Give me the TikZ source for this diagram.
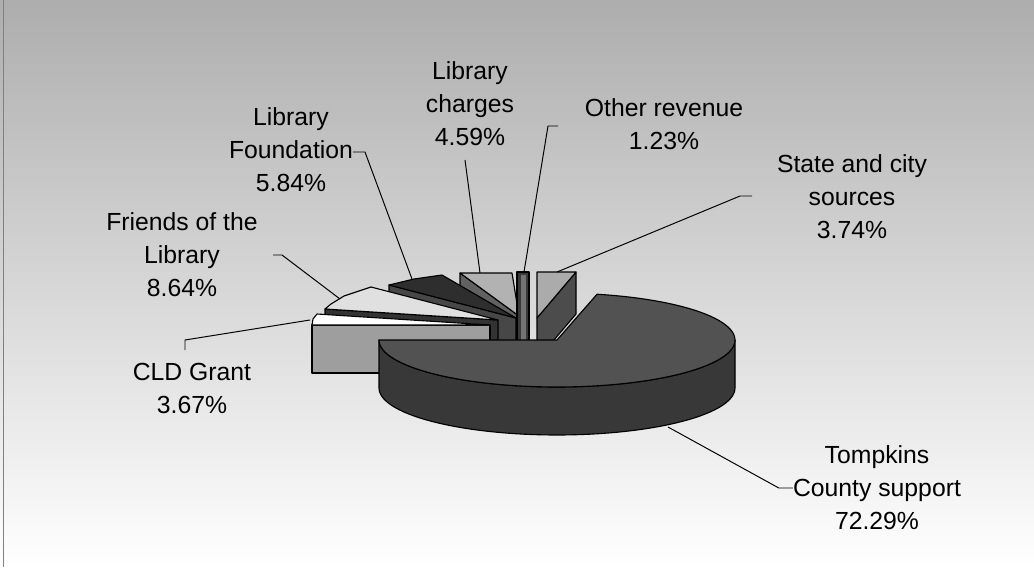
\documentclass[tikz,border=0pt]{standalone}
\usepackage{fontspec}
\setmainfont{Liberation Sans}
\usepackage{tikz}
\usetikzlibrary{calc,positioning}

\begin{document}
\begin{tikzpicture}[
    x = 0.025cm,
    y = -0.025cm,
    line join = round,
    face/.style = {
      draw = black,
      line width = 0.8pt},
    leader/.style = {
      draw = black,
      line width = 0.7pt},
    lbl/.style = {
      align = center,
      inner sep = 0pt,
      font = \fontsize{17.6}{23.5}\selectfont}
      ]
  % Tompkins County slice: apex, radii and height of the rim
  \def\cx{557}
  \def\cy{340}
  \def\rx{178}
  \def\ry{47}
  \def\dep{48}

  % Chart area
  \useasboundingbox (0,0) rectangle (1034,567);
  \shade[top color=black!32, bottom color=white] (0,0) rectangle (1034,567);
  \draw[very thin, color=gray] (3,0) -- (3,567);

  % State and city sources
  \filldraw[face, fill=black!70] (537,318) -- (576,272) -- (576,314) -- (537,360) -- cycle;
  \filldraw[face, fill=black!33] (537,318) -- (576,272) -- (537,272) -- cycle;

  % Library charges
  \filldraw[face, fill=black!62] (460,273) -- (519,316) -- (519,362) -- (460,319) -- cycle;
  \filldraw[face, fill=black!30] (460,273) -- (512,273) -- (519,316) -- cycle;

  % Other revenue
  \filldraw[face, fill=black!78] (517,272) rectangle (529,345);
  \fill[black!55] (521,275) rectangle (526,340);

  % Library Foundation
  \filldraw[face, fill=black!72] (389,285) -- (516,318) -- (516,366) -- (389,333) -- cycle;
  \filldraw[face, fill=black!82] (516,318) -- (389,285) -- (414,279) -- (442,275) -- cycle;

  % Friends of the Library
  \filldraw[face, fill=black!80] (325,309) -- (498,320) -- (498,368) -- (325,357) -- cycle;
  \filldraw[face, fill=black!12] (498,320) -- (325,309) -- (331,304) -- (344,296) -- (362,290) -- (371,287) -- cycle;

  % CLD Grant
  \filldraw[face, fill=black!38] (312,325) rectangle (490,373);
  \filldraw[face, fill=white] (490,325) -- (312,325) -- (313,319) -- (317,314) -- cycle;

  % Tompkins County support: rim first, then the top
  \filldraw[face, fill=black!78] plot[domain=180:0, samples=60] ({\cx+\rx*cos(\x)}, {\cy+\dep+\ry*sin(\x)})
    -- plot[domain=0:180, samples=60] ({\cx+\rx*cos(\x)}, {\cy+\ry*sin(\x)}) -- cycle;
  \filldraw[face, fill=black!68] (\cx,\cy) -- plot[domain=180:-77, samples=90] ({\cx+\rx*cos(\x)}, {\cy+\ry*sin(\x)}) -- cycle;

  % Labels
  \node[lbl] (tomp) at (877,488) {Tompkins\\County support\\72.29\%};
  \node[lbl] (cld) at (192,388) {CLD Grant\\3.67\%};
  \node[lbl] (fri) at (182,255) {Friends of the\\Library\\8.64\%};
  \node[lbl] (fnd) at (291,150) {Library\\Foundation\\5.84\%};
  \node[lbl] (chg) at (470,104) {Library\\charges\\4.59\%};
  \node[lbl] (oth) at (664,124) {Other revenue\\1.23\%};
  \node[lbl] (sta) at (852,197) {State and city\\sources\\3.74\%};

  % Leader lines
  \coordinate (tompEnd) at (668,427);
  \coordinate (cldA) at (185,350);
  \coordinate (cldB) at (185,340);
  \coordinate (cldEnd) at (310,320);
  \coordinate (friA) at (273,255);
  \coordinate (friB) at (282,255);
  \coordinate (friEnd) at (340,299);
  \coordinate (fndA) at (353,152);
  \coordinate (fndB) at (365,152);
  \coordinate (fndEnd) at (412,279);
  \coordinate (chgA) at (465,160);
  \coordinate (chgEnd) at (480,273);
  \coordinate (othA) at (558,126);
  \coordinate (othB) at (548,126);
  \coordinate (othEnd) at (524,272);
  \coordinate (staA) at (752,196);
  \coordinate (staB) at (740,196);
  \coordinate (staEnd) at (557,272);

  \draw[leader] (tomp.west) -- ++(-14,0) -- (tompEnd);
  \draw[leader] (cldA) -- (cldB) -- (cldEnd);
  \draw[leader] (friA) -- (friB) -- (friEnd);
  \draw[leader] (fndA) -- (fndB) -- (fndEnd);
  \draw[leader] (chgA) -- (chgEnd);
  \draw[leader] (othA) -- (othB) -- (othEnd);
  \draw[leader] (staA) -- (staB) -- (staEnd);

\end{tikzpicture}
\end{document}
